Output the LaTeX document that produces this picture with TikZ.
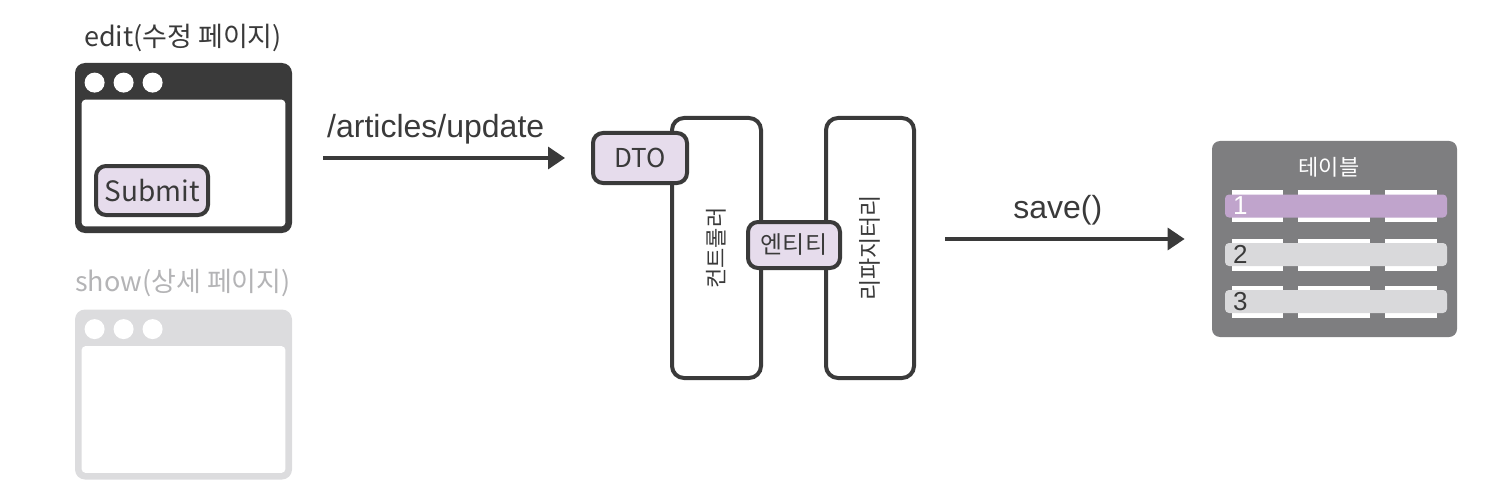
\documentclass[tikz,border=0pt]{standalone}
\usepackage{fontspec}
\setmainfont{Liberation Sans}
\newfontfamily\hangul{Noto Sans CJK KR}
\usetikzlibrary{arrows.meta,positioning,calc}
\definecolor{ink}{HTML}{3A3A3A}
\definecolor{ghost}{HTML}{DCDCDE}
\definecolor{ghosttext}{HTML}{B4B4B6}
\definecolor{lilac}{HTML}{E6DCEC}
\definecolor{violet}{HTML}{C0A4CC}
\definecolor{slab}{HTML}{7E7E80}
\definecolor{rowgray}{HTML}{D9D9DB}
\tikzset{
  flow/.style={draw=ink, line width=1.7pt, -{Triangle[length=8.5pt,width=11pt]}},
  window/.style={fill=#1, rounded corners=5pt, minimum width=108.5pt, minimum height=85pt, inner sep=0pt},
  layer/.style={draw=ink, line width=2pt, fill=white, rounded corners=6pt, minimum width=44.5pt, minimum height=130pt},
  tag/.style={draw=ink, line width=2pt, fill=lilac, rounded corners=5pt, inner sep=0pt, text=ink},
  rowbar/.style={fill=#1, rounded corners=2pt, minimum width=111pt, minimum height=11.5pt, inner sep=0pt},
}
\begin{document}
\begin{tikzpicture}[x=0.5pt,y=-0.5pt]
\useasboundingbox (0,0) rectangle (1488,492);
% page windows
\node[window=ink] (editwin) at (183.5,148) {};
\node[window=ghost] (showwin) at (183.5,394.5) {};
\foreach \w in {editwin,showwin}{
  \fill[white, rounded corners=2pt] ($(\w.north west)+(7,37)$) rectangle ($(\w.south east)+(-7,-7)$);
  \foreach \i in {0,1,2}
    \fill[white] ($(\w.north west)+(20+29*\i,20)$) circle (5pt);
}
\node[text=ink, font=\hangul\fontsize{13.5}{15}\selectfont] (editlabel) at (183,38) {edit(수정 페이지)};
\node[text=ghosttext, font=\hangul\fontsize{13.5}{15}\selectfont] (showlabel) at (183,283) {show(상세 페이지)};
\node[tag, minimum width=56pt, minimum height=24.5pt, font=\hangul\fontsize{14}{16}\selectfont] (submit) at (152,190.5) {Submit};
% controller and repository
\node[layer] (ctrl) at (716.5,248) {};
\node[layer, minimum width=44pt] (repo) at (870,248) {};
\node[rotate=90, text=ink, font=\hangul\fontsize{11}{13}\selectfont] at (ctrl) {컨트롤러};
\node[rotate=90, text=ink, font=\hangul\fontsize{11.5}{13}\selectfont] at (repo) {리파지터리};
\node[tag, minimum width=47pt, minimum height=25pt, font=\hangul\fontsize{13}{15}\selectfont] (dto) at (640,158) {DTO};
\node[tag, minimum width=46pt, minimum height=23pt, font=\hangul\fontsize{12}{14}\selectfont] (entity) at (794,245) {엔티티};
% table
\node[fill=slab, rounded corners=4pt, minimum width=122.5pt, minimum height=98pt, inner sep=0pt] (dbtable) at (1334.5,239) {};
\node[text=white, font=\hangul\fontsize{11}{13}\selectfont] (tabletitle) at (1329,167) {테이블};
\foreach \y/\c/\n/\tc in {206/violet/1/white, 254.5/rowgray/2/ink, 301.5/rowgray/3/ink}{
  \foreach \a/\b in {1232/1283, 1298/1370, 1385/1437}
    \fill[white] (\a,\y-16) rectangle (\b,\y+16);
  \node[rowbar=\c] (row\n) at (1336,\y) {};
  \node[anchor=west, text=\tc, font=\fontsize{13}{15}\selectfont, inner sep=0pt] at ([xshift=4pt]row\n.west) {\n};
}
% requests
\draw[flow, shorten <=15.5pt, shorten >=13pt] (editwin.east |- dto.west) -- (dto.west)
  node[midway, above=6pt, inner sep=0pt, text=ink, font=\fontsize{16}{18}\selectfont, xshift=-3pt] {/articles/update};
\draw[flow, shorten <=14.5pt, shorten >=13.5pt] (repo.east |- dbtable.west) -- (dbtable.west)
  node[midway, above=6pt, inner sep=0pt, text=ink, font=\fontsize{16}{18}\selectfont, xshift=-3pt] {save()};
\end{tikzpicture}
\end{document}
